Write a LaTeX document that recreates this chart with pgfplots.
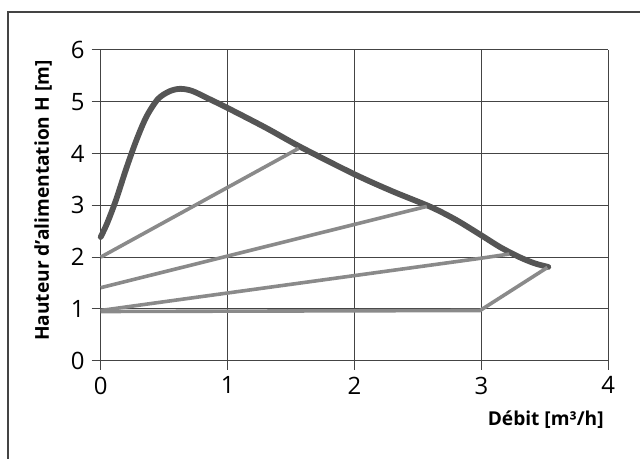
\documentclass[border=0pt]{standalone}
\usepackage{fontspec}
\setmainfont{Open Sans}
\usepackage{pgfplots}
\pgfplotsset{compat=1.18}
\definecolor{curvedark}{HTML}{555555}
\definecolor{linegray}{HTML}{8A8A8A}
\definecolor{gridc}{HTML}{444444}
\begin{document}
\begin{tikzpicture}
\useasboundingbox (-50.35bp,-49.15bp) rectangle (269.65bp,180.35bp);
\draw[line width=0.75bp, color=gridc] (-46.35bp,-60bp) -- (-46.35bp,174.35bp) -- (280bp,174.35bp);
\begin{axis}[
  at={(0,0)}, anchor=south west,
  scale only axis, width=253.8bp, height=155.35bp,
  xmin=0, xmax=4, ymin=0, ymax=6,
  xtick={0,1,2,3,4}, ytick={0,1,2,3,4,5,6},
  axis x line=bottom, axis y line=left,
  axis line style={-, line width=0.6bp, color=gridc},
  grid=major,
  major grid style={line width=0.5bp, color=gridc},
  tick align=outside, major tick length=4.5bp,
  tick style={line width=0.5bp, color=gridc},
  /pgf/number format/assume math mode=true,
  ticklabel style={font=\fontsize{12}{14}\selectfont, text=black},
  clip=false,
]
\addplot[line width=2.9bp, color=curvedark, smooth, tension=0.5, line cap=round] coordinates {
(0,2.39) (0.05,2.65) (0.12,3.1) (0.2,3.7) (0.28,4.25) (0.36,4.71) (0.45,5.05) (0.54,5.2) (0.625,5.25) (0.72,5.21) (0.85,5.06) (1.0,4.88) (1.3,4.5) (1.58,4.12) (2.0,3.6) (2.3,3.27) (2.6,2.97) (2.8,2.72) (3.0,2.42) (3.15,2.19) (3.3,2.0) (3.42,1.88) (3.527,1.81)
};
\addplot[line width=1.8bp, color=linegray] coordinates {(0,2.0) (1.56,4.1)};
\addplot[line width=1.8bp, color=linegray] coordinates {(0,1.41) (2.57,2.98)};
\addplot[line width=1.8bp, color=linegray] coordinates {(0,0.97) (0.8,1.24) (3.0,1.98) (3.22,2.06)};
\addplot[line width=1.8bp, color=linegray] coordinates {(0,0.95) (2.99,0.97) (3.52,1.80)};
\end{axis}
\node[anchor=east, font=\bfseries\fontsize{9.6}{11}\selectfont] at (255bp,-29.5bp) {Débit [m³/h]};
\node[rotate=90, font=\bfseries\fontsize{9.6}{11}\selectfont] at (-28.85bp,80bp) {Hauteur d{\char"0027}alimentation H [m]};
\end{tikzpicture}
\end{document}
